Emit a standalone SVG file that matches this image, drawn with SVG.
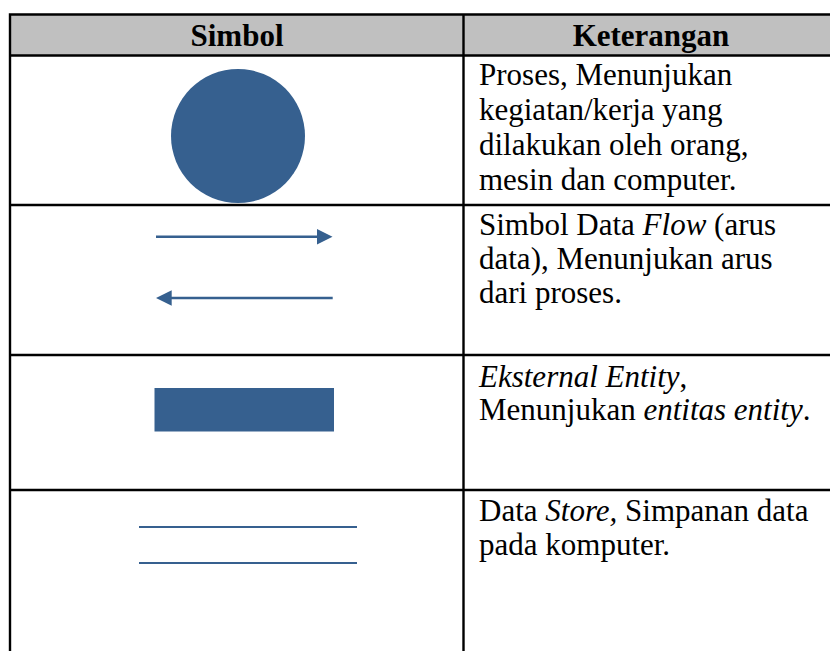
<svg xmlns="http://www.w3.org/2000/svg" width="830" height="651" viewBox="0 0 830 651">
<style>
.grid{stroke:#000;stroke-width:2.4;fill:none}
.t{font-family:'Liberation Serif','Times New Roman',Times,serif;font-size:31px;fill:#000}
.h{font-family:'Liberation Serif','Times New Roman',Times,serif;font-size:31px;font-weight:bold;fill:#000;text-anchor:middle}
.blue{fill:#36608F}
.bl{stroke:#36608F;stroke-width:2.6;fill:none}
.bs{stroke:#36608F;stroke-width:2.2;fill:none}
</style>
<g id="table">
<rect x="10" y="14.5" width="820" height="41" fill="#C0C0C0"/>
<path class="grid" d="M10 14.5H830M10 55.5H830M10 205H830M10 355H830M10 490H830M10 13.3V651M463.5 13.3V651"/>
<text class="h" x="237" y="46" font-family="Liberation Serif">Simbol</text>
<text class="h" x="651" y="46" font-family="Liberation Serif">Keterangan</text>
</g>
<g id="process">
<circle class="blue" cx="238" cy="136" r="67"/>
<text class="t" x="479" y="85">Proses, Menunjukan</text>
<text class="t" x="479" y="120">kegiatan/kerja yang</text>
<text class="t" x="479" y="155">dilakukan oleh orang,</text>
<text class="t" x="479" y="190">mesin dan computer.</text>
</g>
<g id="dataflow">
<text class="t" x="479" y="235">Simbol Data <tspan font-style="italic">Flow</tspan> (arus</text>
<text class="t" x="479" y="269">data), Menunjukan arus</text>
<text class="t" x="479" y="303">dari proses.</text>
</g>
<g id="entity">
<rect class="blue" x="154.5" y="388" width="179.5" height="43.5"/>
<text class="t" x="479" y="387"><tspan font-style="italic">Eksternal Entity</tspan>,</text>
<text class="t" x="479" y="420">Menunjukan <tspan font-style="italic">entitas entity</tspan>.</text>
</g>
<g id="datastore">
<path class="bs" d="M139 527H357M139 563H357"/>
<text class="t" x="479" y="521">Data <tspan font-style="italic">Store,</tspan> Simpanan data</text>
<text class="t" x="479" y="555">pada komputer.</text>
</g>
<g id="connectors">
<path class="bl" d="M156 236.7H319"/>
<polygon class="blue" points="317,229 332.5,236.7 317,244.4"/>
<path class="bl" d="M170 298H332.7"/>
<polygon class="blue" points="171.7,290.3 156,298 171.7,305.7"/>
</g>
</svg>
